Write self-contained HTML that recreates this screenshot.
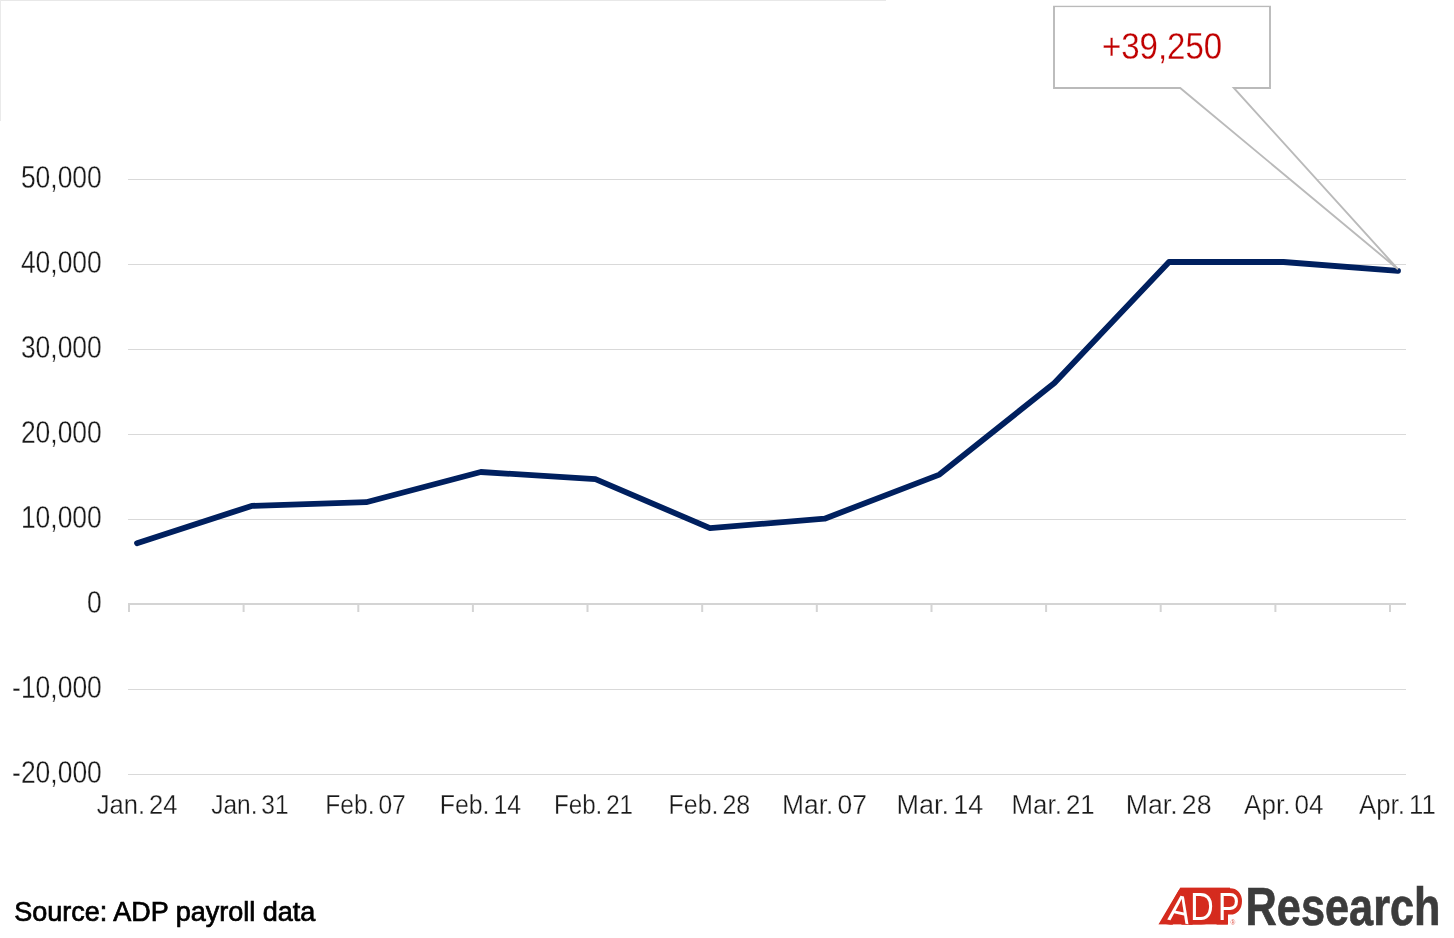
<!DOCTYPE html>
<html lang="en">
<head>
<meta charset="utf-8">
<title>ADP Research chart</title>
<style>
  html, body { margin: 0; padding: 0; background: #ffffff; }
  body { width: 1454px; height: 938px; overflow: hidden; position: relative; }
  svg { position: absolute; left: 0; top: 0; display: block; }
  text { font-family: "Liberation Sans", sans-serif; }
  .ylab { font-size: 31.5px; fill: #1a1a1a; text-anchor: end; stroke: #ffffff; stroke-width: 0.3px; }
  .xlab { font-size: 27.5px; fill: #1a1a1a; text-anchor: middle; stroke: #ffffff; stroke-width: 0.3px; word-spacing: -3.3px; }
  .grid { fill: #d9d9d9; }
  .axis { fill: #d4d4d4; }
</style>
</head>
<body>
<svg width="1454" height="938" viewBox="0 0 1454 938">
  <!-- faint frame remnants top-left -->
  <rect x="0" y="0" width="886" height="1" fill="#e8e8e8"/>
  <rect x="0" y="0" width="1" height="121" fill="#eaeaea"/>

  <!-- gridlines -->
  <g class="grid">
    <rect x="128" y="179" width="1278" height="1"/>
    <rect x="128" y="264" width="1278" height="1"/>
    <rect x="128" y="349" width="1278" height="1"/>
    <rect x="128" y="434" width="1278" height="1"/>
    <rect x="128" y="519" width="1278" height="1"/>
    <rect x="128" y="689" width="1278" height="1"/>
    <rect x="128" y="774" width="1278" height="1"/>
  </g>

  <!-- zero axis + ticks -->
  <g class="axis">
    <rect x="128" y="603" width="1278" height="2"/>
    <rect x="128" y="603" width="2" height="9"/>
    <rect x="242.6" y="603" width="2" height="9"/>
    <rect x="357.3" y="603" width="2" height="9"/>
    <rect x="471.9" y="603" width="2" height="9"/>
    <rect x="586.5" y="603" width="2" height="9"/>
    <rect x="701.2" y="603" width="2" height="9"/>
    <rect x="815.8" y="603" width="2" height="9"/>
    <rect x="930.5" y="603" width="2" height="9"/>
    <rect x="1045.1" y="603" width="2" height="9"/>
    <rect x="1159.7" y="603" width="2" height="9"/>
    <rect x="1274.4" y="603" width="2" height="9"/>
    <rect x="1389" y="603" width="2" height="9"/>
  </g>

  <!-- data line -->
  <polyline fill="none" stroke="#00205f" stroke-width="5.8" stroke-linecap="round" stroke-linejoin="round"
    points="137,543.2 251.6,505.9 366.2,502.2 480.8,472 595.4,479.2 710,528.1 824.6,518.7 939.4,474.6 1054.4,382.9 1169,262 1283.5,262 1398,270.9"/>

  <!-- callout (drawn above the data line) -->
  <polygon points="1054,6.8 1270,6.8 1270,88 1233.8,88 1398,269.2 1180.2,88 1054,88"
           fill="#ffffff" stroke="#bababa" stroke-width="1.9" stroke-linejoin="miter"/>
  <rect x="1055" y="7.15" width="214" height="2" fill="#ffffff"/>
  <text transform="translate(1162 58.9) scale(0.892 1)" text-anchor="middle" font-size="37" fill="#c00000" stroke="#ffffff" stroke-width="0.25">+39,250</text>

  <!-- y labels -->
  <g class="ylab">
    <text transform="translate(101.8 187.7) scale(0.84 1)">50,000</text>
    <text transform="translate(101.8 272.7) scale(0.84 1)">40,000</text>
    <text transform="translate(101.8 357.7) scale(0.84 1)">30,000</text>
    <text transform="translate(101.8 442.7) scale(0.84 1)">20,000</text>
    <text transform="translate(101.8 527.7) scale(0.84 1)">10,000</text>
    <text transform="translate(101.8 612.7) scale(0.84 1)">0</text>
    <text transform="translate(101.8 697.7) scale(0.84 1)">-10,000</text>
    <text transform="translate(101.8 782.7) scale(0.84 1)">-20,000</text>
  </g>

  <!-- x labels -->
  <g class="xlab">
    <text transform="translate(137.1 814) scale(0.930 1)">Jan. 24</text>
    <text transform="translate(249.9 814) scale(0.892 1)">Jan. 31</text>
    <text transform="translate(365.5 814) scale(0.896 1)">Feb. 07</text>
    <text transform="translate(480.4 814) scale(0.905 1)">Feb. 14</text>
    <text transform="translate(593.5 814) scale(0.880 1)">Feb. 21</text>
    <text transform="translate(709.4 814) scale(0.907 1)">Feb. 28</text>
    <text transform="translate(824.5 814) scale(0.961 1)">Mar. 07</text>
    <text transform="translate(939.9 814) scale(0.983 1)">Mar. 14</text>
    <text transform="translate(1053.1 814) scale(0.940 1)">Mar. 21</text>
    <text transform="translate(1168.6 814) scale(0.971 1)">Mar. 28</text>
    <text transform="translate(1283.8 814) scale(0.948 1)">Apr. 04</text>
    <text transform="translate(1397.4 814) scale(0.938 1)">Apr. 11</text>
  </g>

  <!-- source -->
  <text x="14.2" y="920.6" font-size="27" fill="#000000" stroke="#000000" stroke-width="0.7">Source: ADP payroll data</text>

  <!-- logo -->
  <clipPath id="adpclip"><rect x="1150" y="887.3" width="100" height="37.4"/></clipPath>
  <g id="adp" clip-path="url(#adpclip)">
    <polygon points="1158.4,924.6 1180.3,887.4 1230,887.4 1230,914 1228,914 1228,924.6" fill="#d52b1e"/>
    <rect x="1224" y="895" width="10" height="13" fill="#d52b1e"/>
    <text transform="translate(1167.2 919.5) scale(0.85 1)" font-size="38.2" dx="0 1.5 5.3" rotate="11 0 0"
          fill="#ffffff" stroke="#d52b1e" stroke-width="9.5" stroke-linejoin="miter" stroke-miterlimit="2.4" paint-order="stroke fill">ADP</text>
  </g>
  <text x="1230.4" y="925.2" font-size="6.5" fill="#e0574c">®</text>
  <text transform="translate(1245.6 924.6) scale(0.82 1)" font-size="52.8" font-weight="bold" fill="#3c3c3c" stroke="#3c3c3c" stroke-width="0.7">Research</text>
</svg>
</body>
</html>
